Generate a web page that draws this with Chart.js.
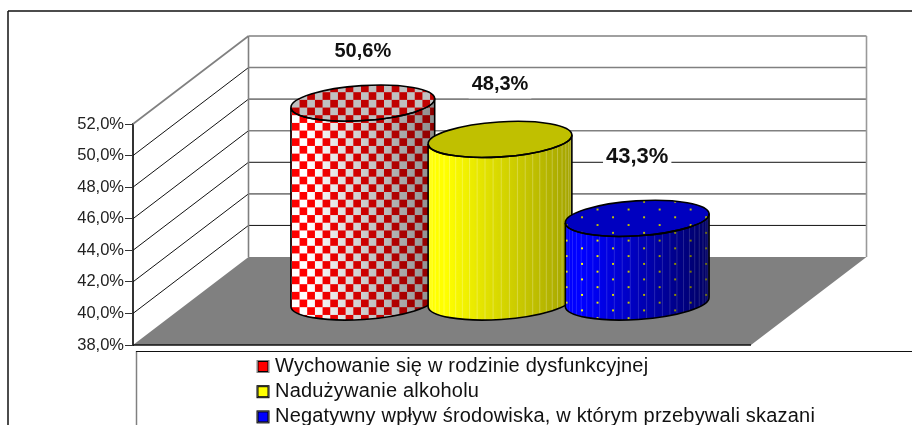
<!DOCTYPE html>
<html>
<head>
<meta charset="utf-8">
<title>Chart</title>
<style>
  html, body { margin: 0; padding: 0; background: #fff; overflow: hidden; }
  canvas { display: block; }
</style>
<script src="https://cdn.jsdelivr.net/npm/chart.js@4/dist/chart.umd.min.js"></script>
</head>
<body>
<canvas id="myChart" width="912" height="425"></canvas>
<script>
var categories = [""];
var seriesNames = [
  "Wychowanie się w rodzinie dysfunkcyjnej",
  "Nadużywanie alkoholu",
  "Negatywny wpływ środowiska, w którym przebywali skazani"
];
var seriesValues = [50.6, 48.3, 43.3];
var axisMin = 38;
var axisMax = 52;
var axisStep = 2;

function pct(v) {
  return v.toFixed(1).replace(".", ",") + "%";
}

// depth of the fake 3d box
var wallDx = 115.5, wallDy = -88;
var barDx = 58, barDy = -43;

function makePattern(ctx, size, scale, paint) {
  var c = document.createElement("canvas");
  c.width = c.height = size;
  paint(c.getContext("2d"), size);
  var p = ctx.createPattern(c, "repeat");
  p.setTransform(new DOMMatrix().scale(scale));
  return p;
}
function checker(ctx, a, b) {
  return makePattern(ctx, 16, 0.96, function (g, s) {
    g.fillStyle = a;
    g.fillRect(0, 0, s, s);
    g.fillStyle = b;
    g.fillRect(0, 0, s / 2, s / 2);
    g.fillRect(s / 2, s / 2, s / 2, s / 2);
  });
}
function dots(ctx, bg, dot) {
  return makePattern(ctx, 32, 0.97, function (g, s) {
    g.fillStyle = bg;
    g.fillRect(0, 0, s, s);
    g.fillStyle = dot;
    g.fillRect(7, 7, 2, 2);
    g.fillRect(23, 15, 2, 2);
    g.fillRect(7, 23, 2, 2);
    g.fillRect(23, 31, 2, 1);
    g.fillRect(23, 0, 2, 1);
  });
}

var looks = [
  {
    side: function (c) { return checker(c, "#ffffff", "#ff0000"); },
    top: function (c) { return checker(c, "#c0c0c0", "#c00000"); },
    dark: 0.45, seams: 0, key: "#ff0000", keyBorder: "#808080"
  },
  {
    side: function () { return "#ffff00"; },
    top: function () { return "#c0c000"; },
    dark: 0.36, seams: 0.25, key: "#ffff00", keyBorder: "#000000"
  },
  {
    side: function (c) { return dots(c, "#0000ff", "#ffff00"); },
    top: function (c) { return dots(c, "#0000c0", "#c0c000"); },
    dark: 0.62, seams: 0.14, key: "#0000ff", keyBorder: "#000000"
  }
];
var labelGaps = [52, 55, 61];
var labelFonts = [20, 20, 22];

function line(ctx, x1, y1, x2, y2, color, w) {
  ctx.strokeStyle = color;
  ctx.lineWidth = w;
  ctx.beginPath();
  ctx.moveTo(x1, y1);
  ctx.lineTo(x2, y2);
  ctx.stroke();
}

// frame, walls and floor go under the cylinders
var boxPlugin = {
  id: "box",
  beforeDatasetsDraw: function (chart) {
    var ctx = chart.ctx, a = chart.chartArea, y = chart.scales.y;
    ctx.save();
    line(ctx, 8, 425, 8, 11, "#111", 1.5);
    line(ctx, 8, 11, 912, 11, "#111", 1.5);
    line(ctx, 136.5, 425, 136.5, 351, "#808080", 1.5);
    line(ctx, 136, 351.5, 912, 351.5, "#111", 1.2);

    y.ticks.forEach(function (t, i) {
      var py = y.getPixelForValue(t.value);
      var black = t.value === 44 || t.value === 40;
      var col = black ? "#111" : "#808080";
      if (t.value !== axisMin) {
        line(ctx, a.left + wallDx, py + wallDy, a.right + wallDx, py + wallDy, col, black ? 1 : 1.6);
        line(ctx, a.left, py, a.left + wallDx, py + wallDy, t.value === axisMax ? "#808080" : "#111", t.value === axisMax ? 1.6 : 1);
      }
    });
    var topY = y.getPixelForValue(axisMax) + wallDy;
    var floorY = y.getPixelForValue(axisMin);
    line(ctx, a.left + wallDx, topY, a.left + wallDx, floorY + wallDy, "#808080", 1.6);
    line(ctx, a.right + wallDx, topY, a.right + wallDx, floorY + wallDy, "#999", 1.6);

    ctx.fillStyle = "#808080";
    ctx.beginPath();
    ctx.moveTo(a.left, floorY);
    ctx.lineTo(a.right, floorY);
    ctx.lineTo(a.right + wallDx, floorY + wallDy);
    ctx.lineTo(a.left + wallDx, floorY + wallDy);
    ctx.closePath();
    ctx.fill();
    line(ctx, a.left, floorY, a.right, floorY, "#111", 1.3);
    ctx.restore();
  }
};

function sidePath(ctx, cx, topY, botY, rx, ry, rot) {
  var ex = rx * Math.cos(rot), ey = rx * Math.sin(rot);
  ctx.beginPath();
  ctx.moveTo(cx - ex, topY - ey);
  ctx.ellipse(cx, topY, rx, ry, rot, Math.PI, 0, true);
  ctx.lineTo(cx + ex, botY + ey);
  ctx.ellipse(cx, botY, rx, ry, rot, 0, Math.PI, false);
  ctx.closePath();
}

// each cylinder sits on the position the bar element got from the scales
var cylinderPlugin = {
  id: "cylinders",
  afterDatasetsDraw: function (chart) {
    var ctx = chart.ctx;
    ctx.save();
    chart.data.datasets.forEach(function (ds, i) {
      var bar = chart.getDatasetMeta(i).data[0];
      var look = looks[i];
      var cx = bar.x + barDx;
      var topY = bar.y + barDy;
      var botY = chart.scales.y.getPixelForValue(axisMin) + barDy;
      var rx = bar.width * 0.525, ry = 17.5, rot = -0.065;
      var xl = cx - rx, xr = cx + rx;

      sidePath(ctx, cx, topY, botY, rx, ry, rot);
      ctx.fillStyle = look.side(ctx);
      ctx.fill();

      ctx.save();
      ctx.clip();
      var shade = ctx.createLinearGradient(xl, 0, xr, 0);
      shade.addColorStop(0, "rgba(0,0,0,0)");
      shade.addColorStop(0.12, "rgba(0,0,0,0)");
      shade.addColorStop(1, "rgba(0,0,0," + look.dark + ")");
      ctx.fillStyle = shade;
      ctx.fillRect(xl - 2, topY - 40, rx * 2 + 4, botY - topY + 80);
      if (look.seams) {
        for (var deg = 6.5; deg < 180; deg += 6.5) {
          var sx = cx - rx * Math.cos(deg * Math.PI / 180);
          line(ctx, sx, topY - 40, sx, botY + 40, "rgba(255,255,255," + look.seams + ")", 1);
        }
      }
      ctx.restore();

      ctx.beginPath();
      ctx.ellipse(cx, topY, rx, ry, rot, 0, Math.PI * 2);
      ctx.fillStyle = look.top(ctx);
      ctx.fill();

      ctx.strokeStyle = "#000";
      ctx.lineWidth = 1.6;
      sidePath(ctx, cx, topY, botY, rx, ry, rot);
      ctx.stroke();
      ctx.beginPath();
      ctx.ellipse(cx, topY, rx, ry, rot, 0, Math.PI * 2);
      ctx.stroke();
    });

    // value labels, white box behind them cuts the grid lines
    chart.data.datasets.forEach(function (ds, i) {
      var bar = chart.getDatasetMeta(i).data[0];
      var lx = bar.x + barDx;
      var ly = bar.y + barDy - labelGaps[i];
      var txt = pct(ds.data[0]);
      ctx.font = "bold " + labelFonts[i] + "px 'Liberation Sans', Arial, sans-serif";
      var w = ctx.measureText(txt).width;
      ctx.fillStyle = "#fff";
      ctx.fillRect(lx - w / 2 - 3, ly - 14, w + 6, 28);
      ctx.fillStyle = "#111";
      ctx.textAlign = "center";
      ctx.textBaseline = "middle";
      ctx.fillText(txt, lx, ly);
    });

    // legend text in the box under the plot
    ctx.textAlign = "left";
    ctx.textBaseline = "alphabetic";
    ctx.font = "20px 'Liberation Sans', Arial, sans-serif";
    ctx.letterSpacing = "0.2px";
    chart.data.datasets.forEach(function (ds, i) {
      var rowY = 371.5 + i * 25.2;
      ctx.fillStyle = looks[i].key;
      ctx.fillRect(258, rowY - 10, 10, 10);
      ctx.strokeStyle = "#000";
      ctx.lineWidth = 1;
      ctx.strokeRect(258, rowY - 10, 10, 10);
      ctx.strokeStyle = looks[i].keyBorder;
      ctx.strokeRect(257, rowY - 11, 12, 12);
      ctx.fillStyle = "#111";
      ctx.fillText(ds.label, 275, rowY);
    });
    ctx.restore();
  }
};

var ctx = document.getElementById("myChart").getContext("2d");
var myChart = new Chart(ctx, {
  type: "bar",
  data: {
    labels: categories,
    datasets: seriesNames.map(function (name, i) {
      return { label: name, data: [seriesValues[i]], backgroundColor: "rgba(0,0,0,0)" };
    })
  },
  options: {
    responsive: false,
    animation: false,
    layout: { padding: { top: 124, right: 161, bottom: 80, left: 0 } },
    datasets: { bar: { categoryPercentage: 0.666, barPercentage: 1 } },
    plugins: { legend: { display: false }, tooltip: { enabled: false } },
    scales: {
      x: { display: false },
      y: {
        min: axisMin,
        max: axisMax,
        afterFit: function (scale) { scale.width = 133; },
        border: { display: true, color: "#333", width: 2 },
        grid: { drawOnChartArea: false, drawTicks: true, tickLength: 8, color: "#333" },
        ticks: {
          stepSize: axisStep,
          padding: 1,
          color: "#222",
          font: { family: "'Liberation Sans', Arial, sans-serif", size: 16.5 },
          callback: function (v) { return pct(v); }
        }
      }
    }
  },
  plugins: [boxPlugin, cylinderPlugin]
});
</script>
</body>
</html>
